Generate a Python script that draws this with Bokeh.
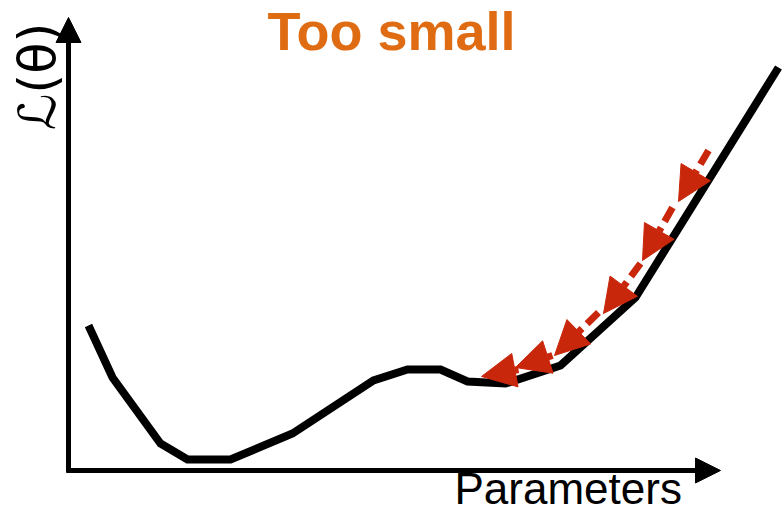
import math
from bokeh.plotting import figure
from bokeh.models import Range1d, Arrow, NormalHead, Label, ColumnDataSource
from bokeh.embed import file_html
from bokeh.resources import INLINE

# ---- data (arbitrary parameter / loss units) ----
param_x = [2.0, 4.4, 9.2, 11.9, 16.2, 22.4, 30.5, 33.9, 37.2, 39.9, 43.7, 49.2, 56.7, 71.0]
loss_y = [14.5, 9.3, 2.7, 1.1, 1.1, 3.7, 9.0, 10.1, 10.1, 8.9, 8.7, 10.5, 17.3, 40.3]

step_x_start = [64.0, 60.4, 57.2, 53.0, 48.4, 45.0]
step_y_start = [32.0, 26.3, 20.7, 15.8, 11.5, 10.1]
step_x_end = [61.0, 57.4, 53.5, 48.6, 44.7, 41.3]
step_y_end = [26.9, 21.0, 15.7, 11.5, 10.3, 9.4]

x_axis_end = 65.2
y_axis_end = 45.3

title_text = "Too small"
x_label = "Parameters"
y_label = "\u2112(\u03b8)"

W, H = 784, 512
p = figure(width=W, height=H, output_backend="svg", toolbar_location=None,
           x_range=Range1d(-6.8, 71.6), y_range=Range1d(-4.2, 47.0),
           min_border=0)
p.axis.visible = False
p.grid.visible = False
p.outline_line_color = None
p.background_fill_color = "white"
p.border_fill_color = "white"

BLACK = "#000000"
RED = "#C9270B"
ORANGE = "#DF6C12"

# axes drawn as arrows
p.add_layout(Arrow(x_start=-0.2, y_start=0, x_end=x_axis_end, y_end=0, line_width=5,
                   line_color=BLACK,
                   end=NormalHead(size=25, fill_color=BLACK, line_color=BLACK, line_width=1)))
p.add_layout(Arrow(x_start=0, y_start=-0.2, x_end=0, y_end=y_axis_end, line_width=5,
                   line_color=BLACK,
                   end=NormalHead(size=25, fill_color=BLACK, line_color=BLACK, line_width=1)))

# loss curve
p.line(param_x, loss_y, line_width=8, line_color=BLACK, line_join="miter", line_cap="butt")

# gradient steps
src = ColumnDataSource(dict(x0=step_x_start, y0=step_y_start, x1=step_x_end, y1=step_y_end))
p.add_layout(Arrow(source=src, x_start="x0", y_start="y0", x_end="x1", y_end="y1",
                   line_color=RED, line_width=7, line_dash="16 7",
                   end=NormalHead(size=34, fill_color=RED, line_color=RED, line_width=1)))

# texts
p.add_layout(Label(x=32.3, y=44.0, text=title_text, text_font="Liberation Sans",
                   text_font_style="bold", text_font_size="54px", text_color=ORANGE,
                   text_align="center", text_baseline="alphabetic"))
p.add_layout(Label(x=38.6, y=-1.8, text=x_label, text_font="Liberation Sans",
                   text_font_size="44px", text_color=BLACK,
                   text_align="left", text_baseline="alphabetic"))
p.add_layout(Label(x=-3.1, y=39.4, text=y_label, text_font="DejaVu Sans",
                   text_font_size="51px", text_color=BLACK, angle=math.pi / 2,
                   text_align="center", text_baseline="middle"))

open("out.html", "w").write(file_html(p, INLINE))
